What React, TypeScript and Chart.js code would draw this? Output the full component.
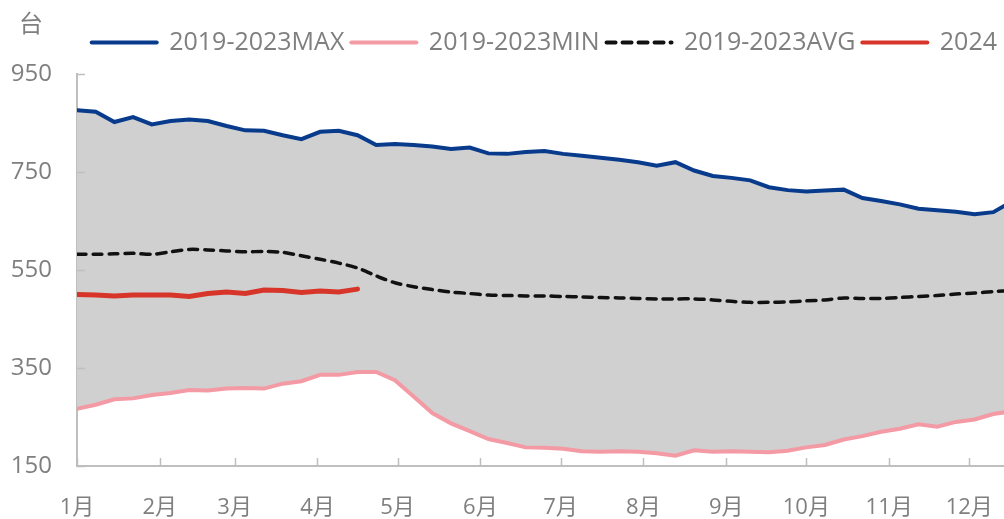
import { useEffect, useRef } from 'react';
import { Chart, registerables } from 'chart.js';

Chart.register(...registerables);

// ---- data ----
const unitLabel = '台';
const monthLabels = ['1月', '2月', '3月', '4月', '5月', '6月', '7月', '8月', '9月', '10月', '11月', '12月'];
const monthStartDays = [0, 31, 59, 90, 120, 151, 181, 212, 243, 273, 304, 334];
const seriesNames = ['2019-2023MAX', '2019-2023MIN', '2019-2023AVG', '2024'];

const maxSeries = [876, 873, 852, 862, 847, 854, 857, 854, 844, 835, 834, 825, 817, 832, 834, 825, 805, 807, 805, 802, 797, 800, 788, 787, 791, 793, 787, 783, 779, 775, 770, 763, 770, 753, 742, 738, 733, 719, 713, 710, 712, 714, 697, 691, 684, 675, 672, 669, 664, 668, 690];
const minSeries = [267, 275, 286, 288, 295, 299, 305, 304, 308, 309, 308, 318, 323, 336, 336, 342, 342, 325, 292, 258, 237, 221, 205, 197, 188, 187, 185, 180, 179, 180, 179, 176, 171, 182, 179, 180, 179, 178, 181, 188, 193, 204, 211, 220, 226, 235, 230, 240, 245, 256, 262];
const avgSeries = [582, 582, 583, 584, 582, 587, 592, 591, 589, 587, 588, 586, 579, 572, 564, 554, 538, 524, 516, 510, 505, 502, 499, 498, 497, 497, 496, 495, 494, 493, 492, 491, 491, 491, 489, 486, 484, 484, 485, 487, 489, 493, 492, 492, 494, 496, 498, 501, 503, 506, 508];
const series2024 = [500, 499, 497, 499, 499, 499, 496, 502, 505, 502, 509, 508, 504, 507, 505, 511];

const Y_MIN = 150;
const Y_MAX = 950;
const Y_STEP = 200;
const X_MAX_DAY = 347;

const FONT = "'Open Sans', 'Noto Sans CJK SC', sans-serif";
const TEXT_COLOR = '#7F7F7F';
const AXIS_COLOR = '#BFBFBF';

// weekly points: day-of-year offset of each week
const toPoints = (vals: number[]) => vals.map((v, i) => ({ x: i * 7, y: v }));

const legendSpacing = {
  id: 'legendSpacing',
  beforeInit(chart: any) {
    const lg = chart.legend;
    if (!lg) return;
    const orig = lg.fit;
    lg.fit = function fit() {
      orig.bind(lg)();
      this.height += 9;
    };
  },
};

const innerTicks = {
  id: 'innerTicks',
  afterDraw(chart: any) {
    const { ctx, chartArea, scales } = chart;
    const x = scales.x;
    const y = scales.y;
    ctx.save();
    ctx.strokeStyle = AXIS_COLOR;
    ctx.lineWidth = 1.5;
    y.ticks.forEach((t: any) => {
      const py = Math.round(y.getPixelForValue(t.value)) + 0.5;
      ctx.beginPath();
      ctx.moveTo(chartArea.left, py);
      ctx.lineTo(chartArea.left + 8, py);
      ctx.stroke();
    });
    x.ticks.forEach((t: any) => {
      const px = Math.round(x.getPixelForValue(t.value)) + 0.5;
      ctx.beginPath();
      ctx.moveTo(px, chartArea.bottom);
      ctx.lineTo(px, chartArea.bottom - 8);
      ctx.stroke();
    });
    ctx.fillStyle = TEXT_COLOR;
    ctx.font = `24px ${FONT}`;
    ctx.textAlign = 'center';
    ctx.textBaseline = 'middle';
    ctx.fillText(unitLabel, 31, 25);
    ctx.restore();
  },
};

export default function App() {
  const canvasRef = useRef<HTMLCanvasElement | null>(null);

  useEffect(() => {
    const canvas = canvasRef.current;
    if (!canvas) return;
    const chart = new Chart(canvas, {
      type: 'line',
      data: {
        datasets: [
          {
            label: seriesNames[0],
            data: toPoints(maxSeries),
            borderColor: '#083B8C',
            backgroundColor: '#D0D0D0',
            borderWidth: 4,
            borderCapStyle: 'round',
            pointRadius: 0,
            fill: '+1',
          },
          {
            label: seriesNames[1],
            data: toPoints(minSeries),
            borderColor: '#F39AA5',
            backgroundColor: '#F39AA5',
            borderWidth: 4,
            borderCapStyle: 'round',
            pointRadius: 0,
            fill: false,
          },
          {
            label: seriesNames[2],
            data: toPoints(avgSeries),
            borderColor: '#111111',
            backgroundColor: '#111111',
            borderWidth: 3.5,
            borderDash: [9, 7],
            borderCapStyle: 'round',
            tension: 0.3,
            pointRadius: 0,
            fill: false,
          },
          {
            label: seriesNames[3],
            data: toPoints(series2024),
            borderColor: '#D7352A',
            backgroundColor: '#D7352A',
            borderWidth: 5,
            borderCapStyle: 'round',
            pointRadius: 0,
            fill: false,
          },
        ],
      },
      options: {
        responsive: false,
        animation: false,
        layout: { padding: { top: 23, left: 0, right: 0, bottom: 0 } },
        plugins: {
          filler: { drawTime: 'beforeDatasetsDraw' },
          tooltip: { enabled: false },
          legend: {
            display: true,
            position: 'top',
            align: 'end',
            labels: {
              usePointStyle: true,
              pointStyle: 'line',
              pointStyleWidth: 65,
              padding: 7,
              color: TEXT_COLOR,
              font: { family: FONT, size: 25 },
              generateLabels: (c: any) =>
                Chart.defaults.plugins.legend.labels.generateLabels(c).map((item: any) => {
                  const ds: any = c.data.datasets[item.datasetIndex];
                  return {
                    ...item,
                    lineDash: ds.borderDash || [],
                    lineCap: 'round',
                    lineWidth: 4,
                    strokeStyle: ds.borderColor,
                  };
                }),
            },
          },
        },
        scales: {
          x: {
            type: 'linear',
            min: 0,
            max: X_MAX_DAY,
            afterBuildTicks: (axis: any) => {
              axis.ticks = monthStartDays.map((v) => ({ value: v }));
            },
            afterFit: (axis: any) => {
              axis.height = 53;
              axis.paddingLeft = 0;
              axis.paddingRight = 0;
            },
            grid: { display: false, drawTicks: false },
            border: { display: true, color: AXIS_COLOR, width: 2 },
            ticks: {
              autoSkip: false,
              maxRotation: 0,
              padding: 29,
              color: TEXT_COLOR,
              font: { family: FONT, size: 22 },
              callback: (value: any) => {
                const idx = monthStartDays.indexOf(Number(value));
                return idx >= 0 ? monthLabels[idx] : '';
              },
            },
          },
          y: {
            min: Y_MIN,
            max: Y_MAX,
            afterFit: (axis: any) => {
              axis.width = 77;
            },
            grid: { display: false, drawTicks: false },
            border: { display: true, color: AXIS_COLOR, width: 2 },
            ticks: {
              stepSize: Y_STEP,
              padding: 25,
              color: TEXT_COLOR,
              font: { family: FONT, size: 24 },
            },
          },
        },
      },
      plugins: [legendSpacing, innerTicks],
    } as any);
    return () => chart.destroy();
  }, []);

  return (
    <div style={{ position: 'absolute', left: 0, top: 0, width: 1004, height: 519, background: '#fff' }}>
      <canvas ref={canvasRef} width={1004} height={519} style={{ display: 'block' }} />
    </div>
  );
}
